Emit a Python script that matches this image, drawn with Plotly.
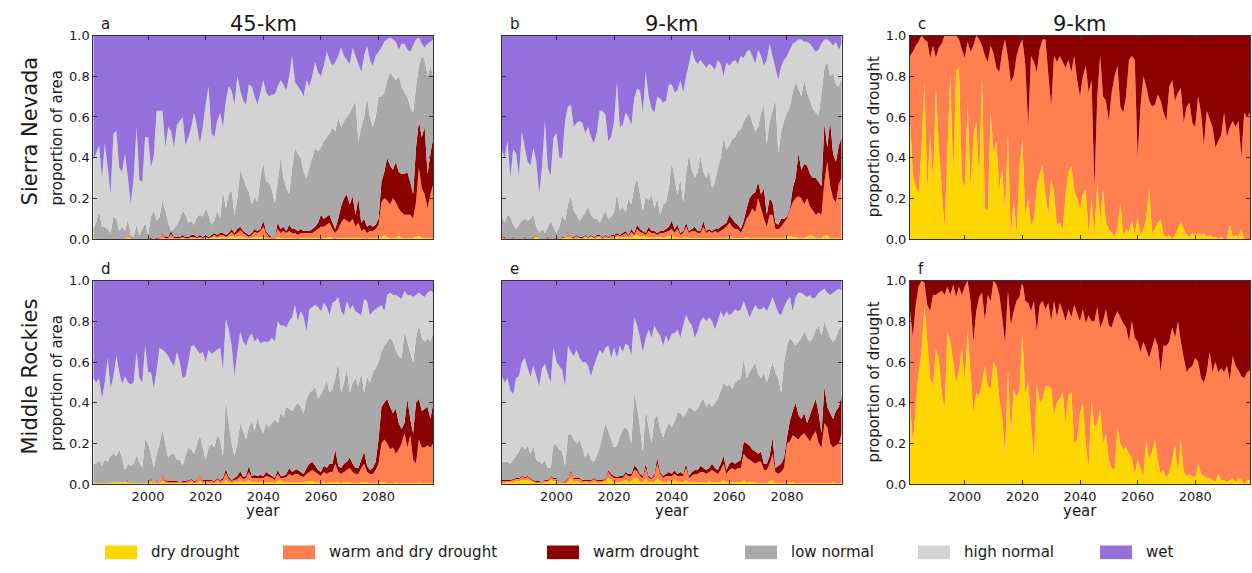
import plotly.graph_objects as go

# ---------------------------------------------------------------------------
# Data: yearly cumulative shares (upper edge of each stacked class), 1981-2099
# ---------------------------------------------------------------------------
YEARS = list(range(1981, 2100))

CATEGORIES = ["dry drought", "warm and dry drought", "warm drought",
              "low normal", "high normal", "wet"]
COLORS = ["#FFD700", "#FF7F50", "#8B0000", "#A9A9A9", "#D3D3D3", "#9370DB"]

X_TICKS = [2000, 2020, 2040, 2060, 2080]
Y_TICKS = [0.0, 0.2, 0.4, 0.6, 0.8, 1.0]

# Sierra Nevada, 45-km: proportion of area (cumulative)
sn45_dry = [
    0.005, 0, 0, 0, 0, 0, 0, 0, 0, 0,
    0, 0, 0.01, 0, 0, 0, 0, 0, 0, 0,
    0, 0, 0, 0, 0.005, 0, 0, 0.005, 0, 0,
    0, 0.005, 0, 0, 0.005, 0.005, 0, 0.005, 0, 0.005,
    0, 0.005, 0.01, 0.005, 0.01, 0.01, 0.005, 0.01, 0.015, 0.01,
    0.01, 0.015, 0.01, 0.005, 0.005, 0.005, 0.01, 0.01, 0.01, 0.01,
    0.005, 0, 0, 0, 0.01, 0.005, 0.005, 0.005, 0.005, 0.005,
    0.005, 0, 0.005, 0.005, 0.005, 0.005, 0.005, 0.005, 0.005, 0.005,
    0.005, 0.005, 0.01, 0.005, 0, 0.005, 0.005, 0.005, 0.005, 0.005,
    0.005, 0.005, 0.005, 0.005, 0.005, 0, 0.005, 0.005, 0.005, 0.005,
    0.01, 0.02, 0.01, 0.005, 0.005, 0.005, 0.015, 0.005, 0.005, 0.005,
    0.005, 0.005, 0.01, 0.015, 0.005, 0.005, 0.005, 0.005, 0.005,
]
sn45_warmdry = [
    0.01, 0.01, 0, 0, 0, 0, 0, 0, 0, 0,
    0, 0, 0.03, 0, 0, 0, 0, 0, 0, 0,
    0, 0, 0, 0.01, 0.025, 0.005, 0.005, 0.025, 0.005, 0.005,
    0.005, 0.01, 0.005, 0.005, 0.01, 0.01, 0.005, 0.01, 0.005, 0.01,
    0.005, 0.01, 0.02, 0.01, 0.02, 0.02, 0.01, 0.02, 0.035, 0.02,
    0.03, 0.045, 0.03, 0.02, 0.01, 0.02, 0.035, 0.03, 0.04, 0.06,
    0.03, 0.01, 0.01, 0.01, 0.05, 0.03, 0.04, 0.03, 0.04, 0.03,
    0.03, 0.02, 0.03, 0.03, 0.03, 0.03, 0.03, 0.04, 0.05, 0.06,
    0.06, 0.07, 0.08, 0.05, 0.03, 0.05, 0.08, 0.10, 0.09, 0.08,
    0.10, 0.06, 0.08, 0.04, 0.05, 0.03, 0.04, 0.04, 0.05, 0.07,
    0.18, 0.20, 0.19, 0.17, 0.20, 0.18, 0.15, 0.13, 0.12, 0.12,
    0.12, 0.10, 0.18, 0.35, 0.25, 0.22, 0.15, 0.22, 0.27,
]
sn45_warm = [
    0.01, 0.01, 0, 0, 0, 0, 0, 0, 0, 0,
    0, 0, 0.03, 0, 0, 0, 0, 0, 0, 0,
    0.005, 0, 0.005, 0.01, 0.03, 0.01, 0.01, 0.04, 0.01, 0.01,
    0.01, 0.02, 0.01, 0.01, 0.02, 0.02, 0.01, 0.02, 0.01, 0.02,
    0.01, 0.02, 0.03, 0.02, 0.03, 0.03, 0.02, 0.03, 0.05, 0.03,
    0.05, 0.06, 0.04, 0.03, 0.02, 0.03, 0.05, 0.04, 0.05, 0.09,
    0.04, 0.02, 0.01, 0.01, 0.08, 0.05, 0.06, 0.04, 0.07, 0.05,
    0.05, 0.04, 0.05, 0.04, 0.04, 0.04, 0.05, 0.06, 0.08, 0.12,
    0.10, 0.11, 0.12, 0.08, 0.05, 0.10, 0.16, 0.20, 0.22, 0.17,
    0.21, 0.12, 0.20, 0.08, 0.10, 0.06, 0.07, 0.06, 0.07, 0.10,
    0.28, 0.33, 0.40, 0.36, 0.34, 0.38, 0.33, 0.32, 0.32, 0.33,
    0.28, 0.22, 0.45, 0.58, 0.50, 0.55, 0.32, 0.42, 0.50,
]
sn45_low = [
    0.05, 0.08, 0.14, 0.06, 0.06, 0.05, 0.03, 0.11, 0.10, 0.04,
    0.06, 0.04, 0.10, 0.02, 0.01, 0.07, 0.02, 0.05, 0.08, 0.02,
    0.11, 0.14, 0.09, 0.11, 0.19, 0.14, 0.08, 0.04, 0.05, 0.07,
    0.10, 0.14, 0.12, 0.08, 0.09, 0.07, 0.11, 0.12, 0.11, 0.15,
    0.12, 0.07, 0.09, 0.14, 0.10, 0.24, 0.15, 0.22, 0.24, 0.12,
    0.20, 0.34, 0.30, 0.26, 0.23, 0.17, 0.21, 0.18, 0.30, 0.38,
    0.28, 0.28, 0.24, 0.18, 0.28, 0.40, 0.30, 0.25, 0.22, 0.35,
    0.45, 0.42, 0.40, 0.33, 0.30, 0.35, 0.40, 0.45, 0.43, 0.45,
    0.48, 0.50, 0.52, 0.55, 0.53, 0.60, 0.55, 0.58, 0.60, 0.62,
    0.65, 0.68, 0.48, 0.55, 0.60, 0.70, 0.60, 0.55, 0.60, 0.70,
    0.70, 0.72, 0.78, 0.82, 0.80, 0.78, 0.80, 0.75, 0.72, 0.70,
    0.65, 0.62, 0.75, 0.85, 0.90, 0.88, 0.80, 0.85, 0.80,
]
sn45_high = [
    0.39, 0.42, 0.46, 0.30, 0.47, 0.35, 0.22, 0.52, 0.53, 0.35,
    0.33, 0.42, 0.30, 0.17, 0.30, 0.55, 0.29, 0.28, 0.50, 0.50,
    0.35, 0.41, 0.63, 0.63, 0.63, 0.45, 0.55, 0.53, 0.45, 0.56,
    0.58, 0.60, 0.46, 0.50, 0.55, 0.62, 0.55, 0.47, 0.55, 0.66,
    0.75, 0.52, 0.50, 0.58, 0.62, 0.55, 0.68, 0.75, 0.73, 0.66,
    0.80, 0.73, 0.68, 0.66, 0.76, 0.75, 0.70, 0.66, 0.72, 0.78,
    0.72, 0.70, 0.71, 0.71, 0.75, 0.78, 0.76, 0.73, 0.80, 0.90,
    0.77, 0.75, 0.73, 0.70, 0.78, 0.75, 0.80, 0.87, 0.82, 0.80,
    0.85, 0.92, 0.88, 0.85, 0.87, 0.90, 0.94, 0.90, 0.88, 0.86,
    0.94, 0.90, 0.86, 0.82, 0.90, 0.95, 0.88, 0.85, 0.90, 0.92,
    0.94, 0.97, 0.98, 0.99, 0.98, 0.97, 0.93, 0.96, 0.96, 0.93,
    0.92, 0.95, 0.98, 0.99, 0.96, 0.94, 0.96, 0.97, 0.98,
]

# Sierra Nevada, 9-km: proportion of area (cumulative)
sn9_dry = [
    0.005, 0, 0, 0, 0, 0, 0, 0, 0, 0,
    0.005, 0.01, 0.01, 0, 0, 0, 0, 0, 0, 0,
    0, 0.005, 0.005, 0.01, 0.005, 0, 0.005, 0.005, 0, 0.01,
    0.005, 0.01, 0.005, 0.005, 0.01, 0, 0.005, 0.005, 0.005, 0.005,
    0.01, 0.005, 0.01, 0.01, 0.005, 0.01, 0.015, 0.02, 0.01, 0.015,
    0.01, 0.01, 0.01, 0.005, 0.01, 0.01, 0.005, 0.01, 0.015, 0.02,
    0.01, 0.01, 0.005, 0.005, 0.01, 0.005, 0.005, 0.005, 0.005, 0.005,
    0.005, 0.005, 0.005, 0.005, 0.005, 0.005, 0.005, 0.005, 0.005, 0.01,
    0.005, 0.005, 0.005, 0.005, 0.005, 0.01, 0.005, 0.005, 0.005, 0.005,
    0.005, 0.005, 0.005, 0.005, 0.005, 0.005, 0.005, 0.005, 0.005, 0.01,
    0.015, 0.01, 0.01, 0.005, 0.005, 0.005, 0.01, 0.02, 0.015, 0.005,
    0.005, 0.005, 0.015, 0.02, 0.005, 0.005, 0.005, 0.005, 0.005,
]
sn9_warmdry = [
    0.01, 0.005, 0, 0, 0.005, 0, 0, 0, 0.005, 0,
    0, 0.005, 0.03, 0, 0, 0, 0.005, 0, 0, 0.005,
    0, 0.005, 0.01, 0.035, 0.01, 0.005, 0.015, 0.005, 0.005, 0.015,
    0.005, 0.015, 0.005, 0.015, 0.015, 0.005, 0.015, 0.005, 0.015, 0.015,
    0.02, 0.015, 0.02, 0.03, 0.015, 0.035, 0.02, 0.05, 0.035, 0.03,
    0.02, 0.04, 0.03, 0.03, 0.02, 0.03, 0.03, 0.035, 0.04, 0.05,
    0.03, 0.05, 0.02, 0.03, 0.06, 0.03, 0.04, 0.04, 0.03, 0.03,
    0.06, 0.03, 0.04, 0.03, 0.04, 0.03, 0.04, 0.05, 0.06, 0.08,
    0.06, 0.05, 0.05, 0.03, 0.06, 0.10, 0.12, 0.15, 0.13, 0.20,
    0.15, 0.10, 0.06, 0.12, 0.12, 0.05, 0.05, 0.06, 0.08, 0.10,
    0.14, 0.18, 0.20, 0.21, 0.20, 0.17, 0.20, 0.16, 0.14, 0.12,
    0.13, 0.12, 0.28, 0.38, 0.26, 0.20, 0.18, 0.27, 0.30,
]
sn9_warm = [
    0.01, 0.01, 0, 0, 0.01, 0, 0, 0, 0.01, 0,
    0, 0.01, 0.03, 0, 0, 0, 0.01, 0, 0, 0.01,
    0, 0.01, 0.01, 0.04, 0.01, 0.01, 0.02, 0.01, 0.01, 0.02,
    0.01, 0.02, 0.01, 0.02, 0.02, 0.01, 0.02, 0.01, 0.02, 0.02,
    0.03, 0.02, 0.03, 0.04, 0.02, 0.05, 0.03, 0.07, 0.05, 0.04,
    0.03, 0.06, 0.04, 0.04, 0.03, 0.04, 0.04, 0.05, 0.06, 0.09,
    0.05, 0.07, 0.03, 0.04, 0.08, 0.04, 0.05, 0.06, 0.04, 0.04,
    0.09, 0.04, 0.05, 0.04, 0.05, 0.05, 0.06, 0.07, 0.08, 0.12,
    0.10, 0.08, 0.07, 0.05, 0.09, 0.15, 0.20, 0.22, 0.23, 0.28,
    0.22, 0.25, 0.12, 0.20, 0.18, 0.08, 0.07, 0.10, 0.10, 0.11,
    0.15, 0.25, 0.30, 0.42, 0.34, 0.37, 0.36, 0.32, 0.30, 0.30,
    0.28, 0.26, 0.57, 0.45, 0.58, 0.42, 0.38, 0.46, 0.50,
]
sn9_low = [
    0.12, 0.08, 0.12, 0.11, 0.07, 0.05, 0.07, 0.09, 0.10, 0.09,
    0.10, 0.12, 0.06, 0.03, 0.05, 0.03, 0.06, 0.09, 0.06, 0.03,
    0.06, 0.12, 0.09, 0.17, 0.21, 0.14, 0.12, 0.09, 0.11, 0.13,
    0.16, 0.12, 0.10, 0.10, 0.08, 0.11, 0.14, 0.10, 0.11, 0.13,
    0.23, 0.14, 0.16, 0.13, 0.20, 0.17, 0.26, 0.30, 0.22, 0.14,
    0.21, 0.19, 0.22, 0.15, 0.20, 0.12, 0.17, 0.18, 0.25, 0.38,
    0.30, 0.22, 0.30, 0.18, 0.32, 0.42, 0.34, 0.30, 0.33, 0.41,
    0.33, 0.30, 0.34, 0.25, 0.28, 0.35, 0.40, 0.50, 0.44, 0.46,
    0.49, 0.50, 0.53, 0.54, 0.58, 0.60, 0.62, 0.57, 0.53, 0.55,
    0.62, 0.66, 0.47, 0.58, 0.63, 0.69, 0.42, 0.53, 0.58, 0.62,
    0.65, 0.72, 0.77, 0.74, 0.70, 0.78, 0.72, 0.68, 0.64, 0.62,
    0.61, 0.72, 0.84, 0.87, 0.80, 0.82, 0.76, 0.75, 0.80,
]
sn9_high = [
    0.44, 0.40, 0.48, 0.30, 0.44, 0.42, 0.31, 0.53, 0.45, 0.38,
    0.36, 0.45, 0.38, 0.22, 0.35, 0.58, 0.35, 0.31, 0.50, 0.52,
    0.40, 0.40, 0.58, 0.65, 0.66, 0.55, 0.57, 0.58, 0.57, 0.52,
    0.55, 0.50, 0.47, 0.52, 0.63, 0.63, 0.61, 0.48, 0.50, 0.58,
    0.77, 0.55, 0.56, 0.62, 0.60, 0.56, 0.69, 0.74, 0.73, 0.62,
    0.82, 0.70, 0.64, 0.62, 0.70, 0.69, 0.67, 0.68, 0.76, 0.76,
    0.72, 0.73, 0.78, 0.72, 0.80, 0.86, 0.93, 0.88, 0.86, 0.88,
    0.86, 0.84, 0.86, 0.85, 0.83, 0.88, 0.86, 0.80, 0.87, 0.85,
    0.87, 0.88, 0.86, 0.90, 0.89, 0.92, 0.93, 0.90, 0.86, 0.93,
    0.90, 0.85, 0.88, 0.96, 0.90, 0.84, 0.78, 0.85, 0.88, 0.90,
    0.93, 0.96, 0.97, 0.98, 0.98, 0.97, 0.97, 0.96, 0.94, 0.92,
    0.93, 0.96, 0.98, 0.98, 0.97, 0.95, 0.97, 0.93, 0.96,
]

# Sierra Nevada, 9-km: proportion of drought (cumulative)
sn9d_dry = [
    0.60, 0.32, 0.26, 0.22, 0.45, 0.77, 0.24, 0.52, 0.28, 0.75,
    0.45, 0.25, 0.05, 0.45, 0.81, 0.30, 0.83, 0.84, 0.30, 0.25,
    0.68, 0.25, 0.50, 0.58, 0.30, 0.79, 0.15, 0.14, 0.62, 0.42,
    0.48, 0.25, 0.35, 0.14, 0.52, 0.01, 0.20, 0.02, 0.35, 0.49,
    0.12, 0.20, 0.07, 0.10, 0.25, 0.32, 0.36, 0.22, 0.12, 0.30,
    0.22, 0.07, 0.08, 0.05, 0.22, 0.33, 0.36, 0.24, 0.20, 0.15,
    0.22, 0.24, 0.02, 0.20, 0.02, 0.28, 0.10, 0.25, 0.08, 0.05,
    0.03, 0.01, 0.05, 0.18, 0.02, 0.05, 0.04, 0.09, 0.02, 0.11,
    0.02, 0.05, 0.10, 0.26, 0.03, 0.05, 0.08, 0.10, 0.02, 0.01,
    0.02, 0.00, 0.02, 0.05, 0.09, 0.05, 0.02, 0.01, 0.03, 0.02,
    0.03, 0.02, 0.03, 0.01, 0.02, 0.01, 0.01, 0.00, 0.01, 0.00,
    0.00, 0.07, 0.01, 0.02, 0.01, 0.05, 0.00, 0.00, 0.00,
]
sn9d_warmdry = [
    0.90, 0.92, 0.95, 0.97, 1.00, 0.98, 0.97, 0.89, 0.95, 0.89,
    0.94, 0.96, 1.00, 1.00, 1.00, 1.00, 1.00, 0.98, 0.93, 0.89,
    0.97, 0.92, 0.95, 1.00, 0.98, 0.95, 0.90, 0.87, 0.95, 0.91,
    0.84, 0.82, 0.92, 0.98, 0.89, 0.77, 0.80, 0.90, 0.95, 0.98,
    0.86, 0.55, 0.90, 0.87, 0.82, 0.93, 0.98, 0.98, 0.81, 0.65,
    0.90, 0.87, 0.90, 0.87, 0.84, 0.88, 0.82, 0.90, 0.78, 0.70,
    0.80, 0.85, 0.72, 0.78, 0.25, 0.70, 0.90, 0.70, 0.68, 0.58,
    0.72, 0.80, 0.85, 0.65, 0.62, 0.70, 0.88, 0.90, 0.88, 0.40,
    0.65, 0.80, 0.75, 0.68, 0.65, 0.66, 0.71, 0.68, 0.62, 0.58,
    0.75, 0.78, 0.68, 0.72, 0.74, 0.57, 0.65, 0.67, 0.57, 0.55,
    0.70, 0.62, 0.46, 0.63, 0.59, 0.55, 0.45, 0.48, 0.51, 0.62,
    0.50, 0.55, 0.58, 0.55, 0.58, 0.40, 0.62, 0.60, 0.62,
]

# Middle Rockies, 45-km: proportion of area (cumulative)
mr45_dry = [
    0.005, 0.005, 0.005, 0.005, 0.005, 0.005, 0.005, 0.01, 0.01, 0.01,
    0.01, 0.01, 0.01, 0.005, 0.005, 0.005, 0.005, 0.005, 0.005, 0.005,
    0.01, 0.005, 0.005, 0.005, 0.015, 0.005, 0.005, 0.005, 0.005, 0.005,
    0.005, 0.005, 0.005, 0.005, 0.01, 0.005, 0.005, 0.015, 0.005, 0.005,
    0.005, 0.005, 0.005, 0.01, 0.005, 0.005, 0.02, 0.01, 0.005, 0.01,
    0.01, 0.015, 0.01, 0.01, 0.02, 0.01, 0.01, 0.01, 0.01, 0.01,
    0.01, 0.01, 0.01, 0.005, 0.015, 0.02, 0.01, 0.01, 0.01, 0.01,
    0.01, 0.01, 0.01, 0.01, 0.015, 0.015, 0.015, 0.01, 0.01, 0.005,
    0.01, 0.005, 0.01, 0.01, 0.01, 0.01, 0.005, 0.01, 0.01, 0.01,
    0.005, 0.005, 0.005, 0.01, 0.01, 0.01, 0.005, 0.005, 0.005, 0.01,
    0.01, 0.01, 0.005, 0.005, 0.005, 0.01, 0.005, 0.005, 0.005, 0.005,
    0.005, 0.005, 0.005, 0.01, 0.005, 0.005, 0.005, 0.005, 0.005,
]
mr45_warmdry = [
    0.008, 0.005, 0.005, 0.005, 0.005, 0.005, 0.01, 0.01, 0.01, 0.01,
    0.01, 0.01, 0.015, 0.005, 0.005, 0.005, 0.005, 0.005, 0.005, 0.01,
    0.025, 0.005, 0.015, 0.01, 0.045, 0.015, 0.01, 0.01, 0.01, 0.01,
    0.01, 0.01, 0.01, 0.015, 0.02, 0.01, 0.015, 0.045, 0.015, 0.015,
    0.015, 0.015, 0.01, 0.025, 0.015, 0.02, 0.055, 0.025, 0.015, 0.02,
    0.025, 0.04, 0.025, 0.03, 0.06, 0.03, 0.03, 0.03, 0.03, 0.03,
    0.04, 0.035, 0.03, 0.02, 0.05, 0.03, 0.03, 0.035, 0.05, 0.04,
    0.05, 0.05, 0.04, 0.035, 0.05, 0.06, 0.07, 0.06, 0.05, 0.04,
    0.06, 0.05, 0.06, 0.06, 0.10, 0.06, 0.05, 0.06, 0.07, 0.08,
    0.06, 0.05, 0.05, 0.08, 0.10, 0.06, 0.05, 0.05, 0.07, 0.10,
    0.20, 0.22, 0.20, 0.17, 0.18, 0.15, 0.17, 0.20, 0.25, 0.18,
    0.24, 0.12, 0.10, 0.22, 0.18, 0.18, 0.19, 0.18, 0.20,
]
mr45_warm = [
    0.01, 0.005, 0.005, 0.005, 0.005, 0.005, 0.01, 0.01, 0.01, 0.01,
    0.01, 0.01, 0.02, 0.005, 0.005, 0.005, 0.005, 0.005, 0.005, 0.01,
    0.03, 0.005, 0.02, 0.01, 0.05, 0.02, 0.015, 0.015, 0.015, 0.015,
    0.01, 0.015, 0.015, 0.02, 0.025, 0.015, 0.02, 0.05, 0.02, 0.02,
    0.02, 0.02, 0.015, 0.03, 0.02, 0.03, 0.075, 0.035, 0.02, 0.03,
    0.04, 0.065, 0.035, 0.04, 0.09, 0.04, 0.045, 0.04, 0.045, 0.04,
    0.06, 0.05, 0.04, 0.03, 0.07, 0.04, 0.04, 0.05, 0.08, 0.06,
    0.07, 0.07, 0.06, 0.05, 0.08, 0.10, 0.11, 0.09, 0.07, 0.06,
    0.09, 0.08, 0.10, 0.10, 0.17, 0.09, 0.08, 0.10, 0.11, 0.13,
    0.10, 0.08, 0.08, 0.12, 0.16, 0.09, 0.07, 0.08, 0.11, 0.22,
    0.38, 0.40, 0.42, 0.38, 0.35, 0.37, 0.30, 0.27, 0.30, 0.42,
    0.32, 0.25, 0.40, 0.42, 0.36, 0.37, 0.38, 0.32, 0.40,
]
mr45_low = [
    0.10, 0.10, 0.12, 0.09, 0.12, 0.11, 0.14, 0.15, 0.14, 0.17,
    0.13, 0.07, 0.10, 0.09, 0.10, 0.14, 0.11, 0.08, 0.22, 0.20,
    0.15, 0.08, 0.15, 0.20, 0.27, 0.20, 0.13, 0.15, 0.15, 0.12,
    0.12, 0.09, 0.14, 0.18, 0.17, 0.15, 0.20, 0.24, 0.18, 0.12,
    0.18, 0.20, 0.18, 0.24, 0.22, 0.14, 0.42, 0.30, 0.20, 0.14,
    0.20, 0.30, 0.26, 0.22, 0.28, 0.31, 0.26, 0.33, 0.28, 0.25,
    0.30, 0.28, 0.30, 0.32, 0.30, 0.35, 0.33, 0.38, 0.37, 0.36,
    0.38, 0.40, 0.38, 0.35, 0.42, 0.45, 0.46, 0.48, 0.42, 0.44,
    0.47, 0.51, 0.45, 0.47, 0.52, 0.60, 0.45, 0.50, 0.57, 0.45,
    0.50, 0.52, 0.48, 0.55, 0.45, 0.53, 0.50, 0.55, 0.57, 0.60,
    0.65, 0.68, 0.70, 0.72, 0.70, 0.66, 0.63, 0.62, 0.75, 0.70,
    0.65, 0.60, 0.72, 0.78, 0.72, 0.70, 0.72, 0.70, 0.75,
]
mr45_high = [
    0.52, 0.50, 0.52, 0.42, 0.50, 0.62, 0.47, 0.53, 0.63, 0.55,
    0.49, 0.53, 0.50, 0.49, 0.50, 0.65, 0.52, 0.50, 0.68, 0.55,
    0.55, 0.47, 0.56, 0.67, 0.66, 0.65, 0.63, 0.60, 0.58, 0.65,
    0.60, 0.52, 0.53, 0.60, 0.68, 0.68, 0.66, 0.64, 0.65, 0.60,
    0.66, 0.64, 0.65, 0.66, 0.67, 0.56, 0.81, 0.76, 0.68, 0.53,
    0.65, 0.75, 0.70, 0.68, 0.72, 0.74, 0.70, 0.72, 0.69, 0.70,
    0.70, 0.70, 0.72, 0.70, 0.80, 0.78, 0.78, 0.77, 0.80, 0.82,
    0.88, 0.80, 0.85, 0.82, 0.75, 0.86, 0.87, 0.88, 0.87, 0.85,
    0.89, 0.87, 0.83, 0.89, 0.90, 0.92, 0.85, 0.83, 0.90, 0.86,
    0.88, 0.85, 0.84, 0.83, 0.91, 0.90, 0.83, 0.85, 0.86, 0.87,
    0.88, 0.85, 0.93, 0.94, 0.93, 0.93, 0.92, 0.91, 0.95, 0.93,
    0.93, 0.92, 0.93, 0.94, 0.93, 0.92, 0.94, 0.95, 0.94,
]

# Middle Rockies, 9-km: proportion of area (cumulative)
mr9_dry = [
    0.005, 0.005, 0.01, 0.01, 0.01, 0.015, 0.015, 0.02, 0.02, 0.02,
    0.015, 0.01, 0.005, 0.005, 0.005, 0.01, 0.01, 0.02, 0.015, 0.015,
    0.005, 0.005, 0.005, 0.01, 0.03, 0.01, 0.015, 0.01, 0.005, 0.01,
    0.005, 0.005, 0.01, 0.005, 0.005, 0.01, 0.01, 0.03, 0.02, 0.01,
    0.01, 0.01, 0.015, 0.02, 0.01, 0.015, 0.03, 0.03, 0.01, 0.01,
    0.03, 0.01, 0.01, 0.01, 0.03, 0.015, 0.01, 0.01, 0.015, 0.01,
    0.02, 0.01, 0.01, 0.01, 0.02, 0.01, 0.01, 0.01, 0.01, 0.01,
    0.01, 0.01, 0.015, 0.01, 0.01, 0.01, 0.01, 0.02, 0.01, 0.01,
    0.01, 0.01, 0.01, 0.01, 0.02, 0.01, 0.01, 0.01, 0.01, 0.005,
    0.005, 0.005, 0.005, 0.015, 0.02, 0.005, 0.005, 0.005, 0.005, 0.01,
    0.01, 0.01, 0.005, 0.005, 0.005, 0.005, 0.005, 0.005, 0.005, 0.005,
    0.005, 0.005, 0.005, 0.005, 0.005, 0.01, 0.005, 0.005, 0.005,
]
mr9_warmdry = [
    0.015, 0.015, 0.015, 0.015, 0.02, 0.025, 0.025, 0.035, 0.03, 0.035,
    0.025, 0.015, 0.01, 0.01, 0.008, 0.015, 0.015, 0.035, 0.025, 0.025,
    0.008, 0.008, 0.01, 0.025, 0.06, 0.025, 0.025, 0.025, 0.015, 0.015,
    0.015, 0.015, 0.025, 0.015, 0.015, 0.015, 0.025, 0.06, 0.04, 0.03,
    0.03, 0.03, 0.03, 0.05, 0.04, 0.04, 0.07, 0.065, 0.04, 0.03,
    0.08, 0.03, 0.025, 0.04, 0.10, 0.05, 0.03, 0.04, 0.04, 0.04,
    0.05, 0.04, 0.04, 0.04, 0.08, 0.03, 0.04, 0.05, 0.05, 0.06,
    0.06, 0.05, 0.06, 0.07, 0.06, 0.05, 0.07, 0.10, 0.05, 0.07,
    0.08, 0.07, 0.08, 0.08, 0.15, 0.13, 0.12, 0.11, 0.10, 0.11,
    0.11, 0.07, 0.07, 0.10, 0.15, 0.06, 0.05, 0.06, 0.08, 0.20,
    0.21, 0.24, 0.23, 0.22, 0.24, 0.25, 0.23, 0.21, 0.24, 0.26,
    0.20, 0.18, 0.30, 0.28, 0.20, 0.18, 0.19, 0.20, 0.25,
]
mr9_warm = [
    0.02, 0.02, 0.02, 0.02, 0.025, 0.03, 0.03, 0.04, 0.035, 0.04,
    0.03, 0.02, 0.015, 0.015, 0.01, 0.02, 0.02, 0.04, 0.03, 0.03,
    0.01, 0.01, 0.015, 0.03, 0.07, 0.03, 0.03, 0.03, 0.02, 0.02,
    0.02, 0.02, 0.03, 0.02, 0.02, 0.02, 0.03, 0.07, 0.05, 0.04,
    0.035, 0.04, 0.04, 0.06, 0.05, 0.05, 0.09, 0.08, 0.05, 0.04,
    0.10, 0.04, 0.03, 0.05, 0.13, 0.06, 0.04, 0.05, 0.06, 0.05,
    0.07, 0.05, 0.06, 0.05, 0.10, 0.04, 0.06, 0.07, 0.07, 0.09,
    0.08, 0.07, 0.08, 0.10, 0.08, 0.07, 0.10, 0.14, 0.07, 0.10,
    0.11, 0.10, 0.11, 0.12, 0.21, 0.20, 0.19, 0.17, 0.16, 0.15,
    0.16, 0.10, 0.10, 0.14, 0.23, 0.08, 0.09, 0.10, 0.13, 0.23,
    0.31, 0.36, 0.40, 0.34, 0.32, 0.35, 0.30, 0.34, 0.38, 0.42,
    0.35, 0.25, 0.48, 0.38, 0.35, 0.32, 0.36, 0.38, 0.44,
]
mr9_low = [
    0.11, 0.11, 0.11, 0.10, 0.12, 0.14, 0.16, 0.19, 0.17, 0.19,
    0.15, 0.19, 0.12, 0.11, 0.10, 0.12, 0.08, 0.08, 0.20, 0.19,
    0.17, 0.16, 0.09, 0.24, 0.25, 0.22, 0.20, 0.22, 0.18, 0.13,
    0.16, 0.12, 0.11, 0.14, 0.18, 0.24, 0.30, 0.26, 0.22, 0.18,
    0.19, 0.23, 0.27, 0.28, 0.26, 0.20, 0.45, 0.38, 0.28, 0.16,
    0.37, 0.28, 0.20, 0.32, 0.34, 0.27, 0.23, 0.27, 0.30, 0.28,
    0.31, 0.35, 0.35, 0.33, 0.35, 0.38, 0.37, 0.36, 0.37, 0.40,
    0.42, 0.38, 0.40, 0.38, 0.40, 0.42, 0.46, 0.50, 0.48, 0.49,
    0.47, 0.50, 0.51, 0.52, 0.62, 0.52, 0.55, 0.57, 0.60, 0.54,
    0.52, 0.55, 0.50, 0.55, 0.60, 0.55, 0.52, 0.45, 0.60, 0.68,
    0.72, 0.70, 0.68, 0.70, 0.72, 0.75, 0.72, 0.70, 0.72, 0.76,
    0.78, 0.73, 0.80, 0.76, 0.72, 0.70, 0.72, 0.76, 0.78,
]
mr9_high = [
    0.53, 0.50, 0.52, 0.46, 0.44, 0.52, 0.53, 0.60, 0.62, 0.57,
    0.53, 0.58, 0.53, 0.48, 0.57, 0.59, 0.54, 0.50, 0.67, 0.60,
    0.58, 0.56, 0.48, 0.68, 0.65, 0.63, 0.66, 0.62, 0.60, 0.60,
    0.58, 0.53, 0.58, 0.62, 0.66, 0.64, 0.67, 0.68, 0.62, 0.67,
    0.62, 0.68, 0.65, 0.69, 0.68, 0.63, 0.82, 0.78, 0.72, 0.65,
    0.72, 0.76, 0.72, 0.78, 0.75, 0.73, 0.68, 0.73, 0.70, 0.74,
    0.74, 0.76, 0.72, 0.78, 0.83, 0.80, 0.78, 0.72, 0.75, 0.80,
    0.82, 0.80, 0.82, 0.80, 0.76, 0.80, 0.85, 0.82, 0.85, 0.83,
    0.84, 0.86, 0.85, 0.86, 0.90, 0.86, 0.82, 0.85, 0.88, 0.86,
    0.86, 0.87, 0.85, 0.88, 0.92, 0.88, 0.84, 0.83, 0.87, 0.90,
    0.92, 0.85, 0.92, 0.94, 0.94, 0.93, 0.92, 0.93, 0.91, 0.92,
    0.94, 0.95, 0.96, 0.94, 0.93, 0.94, 0.95, 0.96, 0.95,
]

# Middle Rockies, 9-km: proportion of drought (cumulative)
mr9d_dry = [
    0.40, 0.20, 0.38, 0.55, 0.65, 0.88, 0.70, 0.52, 0.49, 0.66,
    0.62, 0.45, 0.37, 0.75, 0.70, 0.60, 0.50, 0.56, 0.67, 0.50,
    0.75, 0.55, 0.35, 0.45, 0.43, 0.50, 0.58, 0.48, 0.47, 0.60,
    0.57, 0.42, 0.33, 0.15, 0.56, 0.25, 0.46, 0.43, 0.46, 0.74,
    0.45, 0.50, 0.30, 0.12, 0.50, 0.40, 0.42, 0.48, 0.48, 0.47,
    0.34, 0.40, 0.42, 0.45, 0.30, 0.44, 0.45, 0.20, 0.22, 0.35,
    0.40, 0.20, 0.08, 0.42, 0.28, 0.30, 0.37, 0.20, 0.25, 0.12,
    0.08, 0.07, 0.28, 0.20, 0.17, 0.18, 0.15, 0.13, 0.05, 0.12,
    0.08, 0.04, 0.22, 0.12, 0.16, 0.22, 0.12, 0.05, 0.07, 0.03,
    0.06, 0.12, 0.19, 0.05, 0.22, 0.06, 0.04, 0.05, 0.04, 0.03,
    0.10, 0.05, 0.04, 0.03, 0.03, 0.02, 0.01, 0.05, 0.02, 0.02,
    0.01, 0.02, 0.03, 0.01, 0.03, 0.02, 0.00, 0.02, 0.02,
]
mr9d_warmdry = [
    0.85, 0.72, 0.88, 0.97, 1.00, 0.99, 0.88, 0.85, 0.93, 0.93,
    0.94, 0.95, 0.93, 0.97, 0.93, 0.98, 0.92, 0.97, 0.93, 0.97,
    1.00, 0.90, 0.70, 0.85, 0.92, 0.94, 0.80, 0.93, 0.90, 1.00,
    0.98, 0.93, 0.82, 0.69, 0.95, 0.78, 0.85, 0.90, 0.92, 1.00,
    0.90, 0.89, 0.85, 0.90, 0.75, 0.88, 0.90, 0.86, 0.89, 0.80,
    0.90, 0.82, 0.89, 0.85, 0.80, 0.86, 0.82, 0.88, 0.84, 0.80,
    0.86, 0.79, 0.83, 0.80, 0.80, 0.87, 0.77, 0.80, 0.86, 0.78,
    0.77, 0.82, 0.85, 0.82, 0.79, 0.77, 0.70, 0.80, 0.72, 0.70,
    0.65, 0.70, 0.66, 0.62, 0.67, 0.72, 0.68, 0.55, 0.68, 0.68,
    0.70, 0.77, 0.72, 0.80, 0.70, 0.62, 0.55, 0.57, 0.58, 0.62,
    0.60, 0.52, 0.50, 0.55, 0.65, 0.55, 0.60, 0.55, 0.57, 0.55,
    0.58, 0.51, 0.63, 0.58, 0.56, 0.53, 0.52, 0.55, 0.56,
]

# All classes together cover the whole area / all drought cells
TOTAL = [1.0] * len(YEARS)

# ---------------------------------------------------------------------------
# Layout geometry (pixels of a 1252 x 573 canvas)
# ---------------------------------------------------------------------------
W, H = 1252, 573
COL_X = [(93.3, 433.3), (501.7, 841.7), (910.0, 1250.0)]
ROW_Y = [(29.3, 238.3), (281.0, 490.0)]
FONT = "DejaVu Sans"
INK = "#1a1a1a"
FRAME = "#333333"


def fx(x):
    return x / W


def fy(y):
    return 1 - y / H


PANELS = [
    dict(letter="a", title="45-km", row=0, col=0,
         edges=[sn45_dry, sn45_warmdry, sn45_warm, sn45_low, sn45_high, TOTAL]),
    dict(letter="b", title="9-km", row=0, col=1,
         edges=[sn9_dry, sn9_warmdry, sn9_warm, sn9_low, sn9_high, TOTAL]),
    dict(letter="c", title="9-km", row=0, col=2,
         edges=[sn9d_dry, sn9d_warmdry, TOTAL]),
    dict(letter="d", title=None, row=1, col=0,
         edges=[mr45_dry, mr45_warmdry, mr45_warm, mr45_low, mr45_high, TOTAL]),
    dict(letter="e", title=None, row=1, col=1,
         edges=[mr9_dry, mr9_warmdry, mr9_warm, mr9_low, mr9_high, TOTAL]),
    dict(letter="f", title=None, row=1, col=2,
         edges=[mr9d_dry, mr9d_warmdry, TOTAL]),
]

for p in PANELS:
    for e in p["edges"]:
        assert len(e) == len(YEARS), (p["letter"], len(e))

fig = go.Figure()
annotations = []
layout_axes = {}

for i, p in enumerate(PANELS, start=1):
    xa = "x" if i == 1 else f"x{i}"
    ya = "y" if i == 1 else f"y{i}"
    for k, edge in enumerate(p["edges"]):
        fig.add_trace(go.Scatter(
            x=YEARS, y=edge, xaxis=xa, yaxis=ya,
            mode="none", fill="tozeroy" if k == 0 else "tonexty",
            fillcolor=COLORS[k], name=CATEGORIES[k],
            showlegend=False, hoverinfo="skip",
        ))

    x0, x1 = COL_X[p["col"]]
    y0, y1 = ROW_Y[p["row"]]
    common = dict(showline=True, linecolor=FRAME, linewidth=1,
                  mirror="ticks", ticks="inside", ticklen=4, tickwidth=1,
                  tickcolor=FRAME, showgrid=False, zeroline=False,
                  tickfont=dict(family=FONT, size=13, color=INK))
    layout_axes["xaxis" if i == 1 else f"xaxis{i}"] = dict(
        common, domain=[fx(x0), fx(x1)], range=[1981, 2099],
        tickvals=X_TICKS, showticklabels=(p["row"] == 1),
        anchor=ya,
    )
    layout_axes["yaxis" if i == 1 else f"yaxis{i}"] = dict(
        common, domain=[fy(y1), fy(y0)], range=[0, 1],
        tickvals=Y_TICKS, tickformat=".1f",
        showticklabels=(p["col"] != 1), anchor=xa,
    )

    # panel letter
    annotations.append(dict(
        text=p["letter"], x=fx(x0 + 6), y=fy(y0 - 12), xref="paper", yref="paper",
        xanchor="left", yanchor="middle", showarrow=False,
        font=dict(family=FONT, size=15, color=INK)))
    if p["title"]:
        annotations.append(dict(
            text=p["title"], x=fx((x0 + x1) / 2), y=fy(y0 - 12),
            xref="paper", yref="paper", xanchor="center", yanchor="middle",
            showarrow=False, font=dict(family=FONT, size=21, color=INK)))
    if p["row"] == 1:
        annotations.append(dict(
            text="year", x=fx((x0 + x1) / 2), y=fy(518), xref="paper", yref="paper",
            xanchor="center", yanchor="middle", showarrow=False,
            font=dict(family=FONT, size=15, color=INK)))
    if p["col"] != 1:
        ytitle = "proportion of area" if p["col"] == 0 else "proportion of drought"
        annotations.append(dict(
            text=ytitle, x=fx(x0 - 36), y=fy((y0 + y1) / 2), xref="paper",
            yref="paper", xanchor="center", yanchor="middle", textangle=-90,
            showarrow=False, font=dict(family=FONT, size=15, color=INK)))

# region labels on the left
for label, (y0, y1) in zip(["Sierra Nevada", "Middle Rockies"], ROW_Y):
    annotations.append(dict(
        text=label, x=fx(30), y=fy((y0 + y1) / 2 - 6), xref="paper", yref="paper",
        xanchor="center", yanchor="middle", textangle=-90, showarrow=False,
        font=dict(family=FONT, size=21, color=INK)))

# legend row along the bottom
LEGEND_X = [105, 283, 547, 745, 918, 1100]
shapes = []
for name, color, lx in zip(CATEGORIES, COLORS, LEGEND_X):
    shapes.append(dict(type="rect", xref="paper", yref="paper",
                       x0=fx(lx), x1=fx(lx + 32), y0=fy(567), y1=fy(553),
                       fillcolor=color, line=dict(width=0)))
    annotations.append(dict(
        text=name, x=fx(lx + 44), y=fy(560), xref="paper", yref="paper",
        xanchor="left", yanchor="middle", showarrow=False,
        font=dict(family=FONT, size=15, color=INK)))

fig.update_layout(
    width=W, height=H, autosize=False,
    margin=dict(l=0, r=0, t=0, b=0),
    paper_bgcolor="white", plot_bgcolor="white",
    showlegend=False,
    annotations=annotations, shapes=shapes,
    **layout_axes,
)

fig.write_html("out.html")
